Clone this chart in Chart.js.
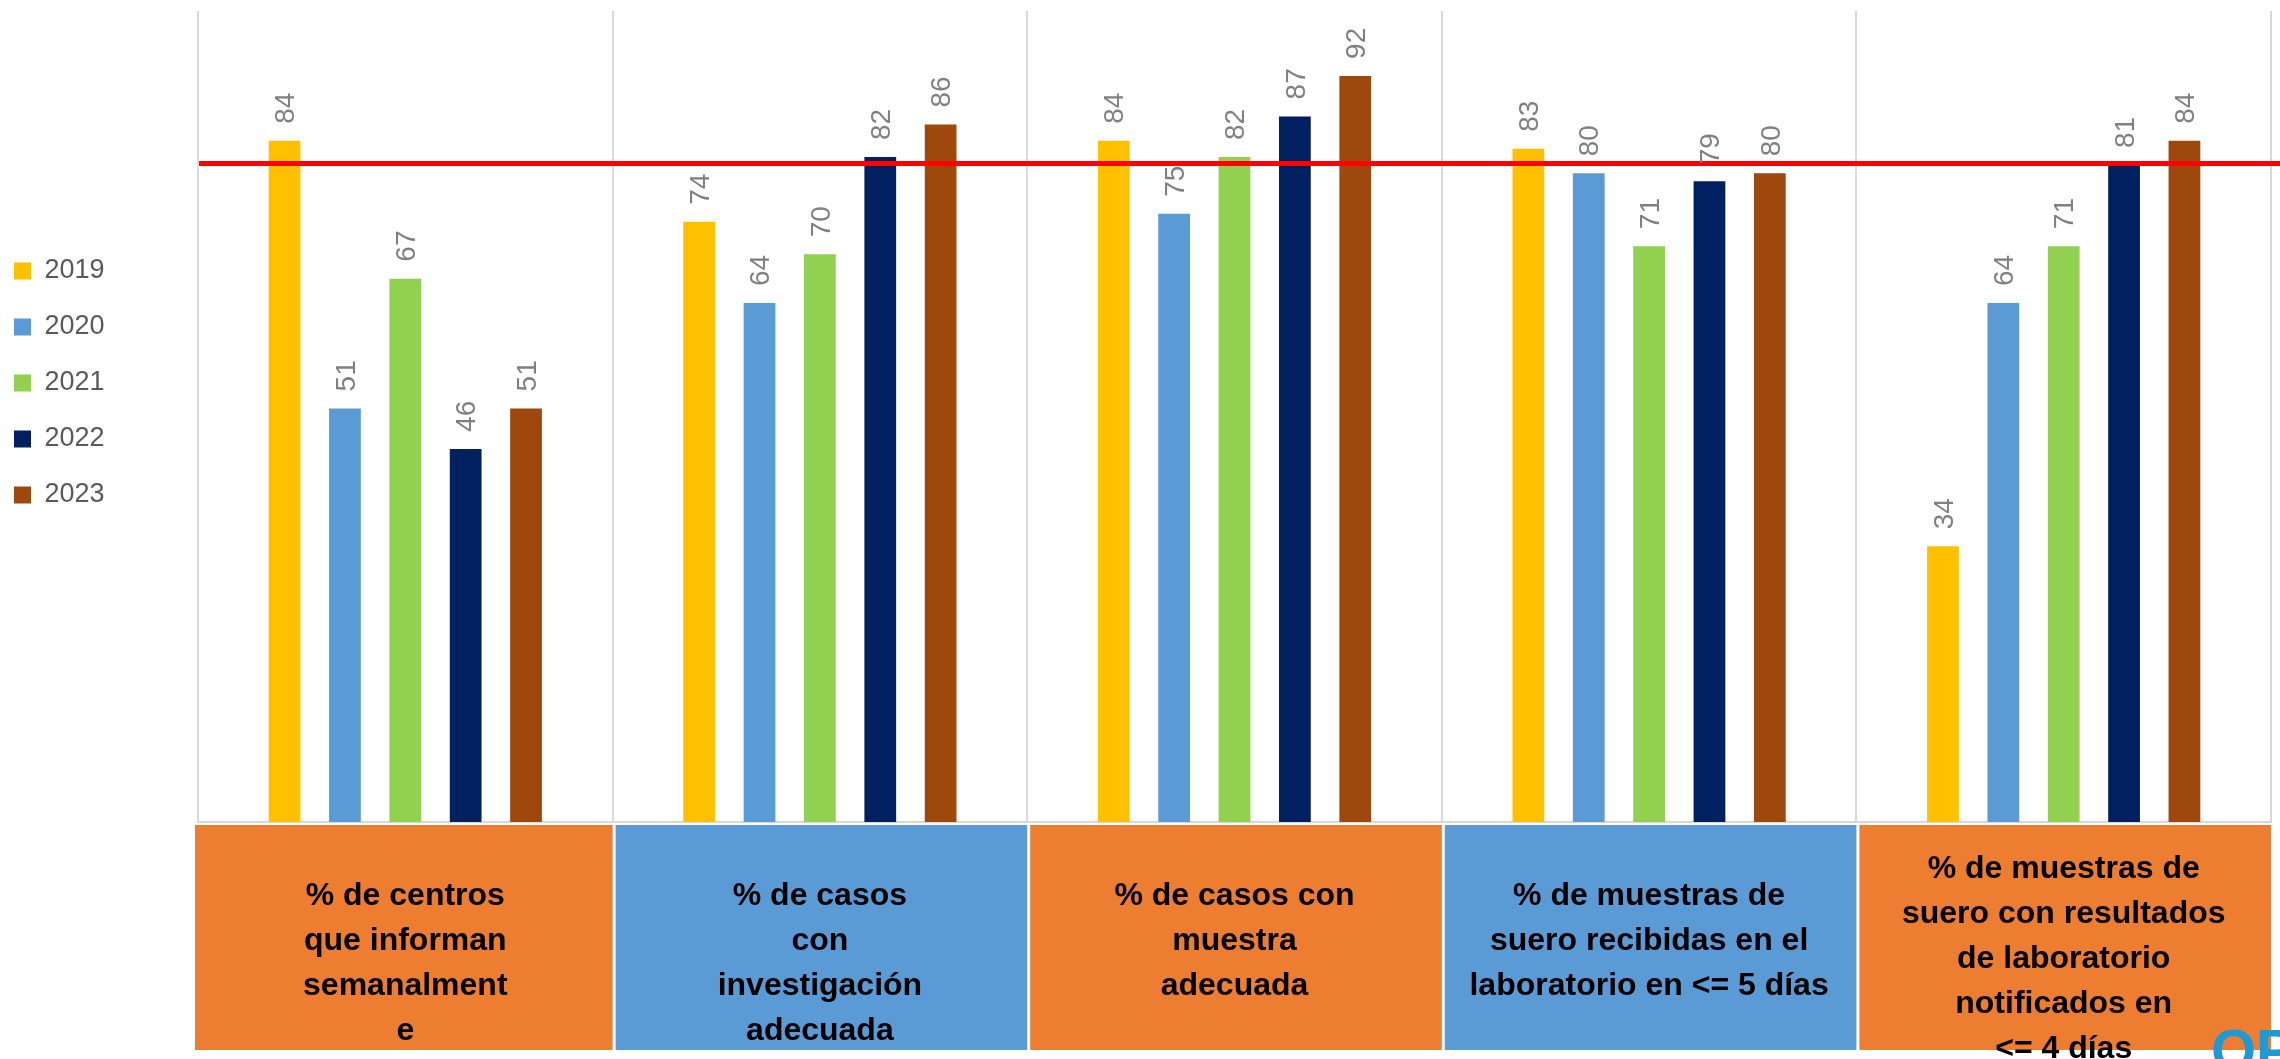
<!DOCTYPE html>
<html>
<head>
<meta charset="utf-8">
<script src="https://cdn.jsdelivr.net/npm/chart.js@4.4.1/dist/chart.umd.min.js"></script>
<style>
  html, body { margin: 0; padding: 0; background: #fff; }
  #wrap { width: 2280px; height: 1059px; position: relative; }
</style>
</head>
<body>
<div id="wrap"><canvas id="chart"></canvas></div>
<script>
// categories, one entry per group, already broken into lines as in the picture
const categories = [
  ["% de centros", "que informan", "semanalment", "e"],
  ["% de casos", "con", "investigación", "adecuada"],
  ["% de casos con", "muestra", "adecuada"],
  ["% de muestras de", "suero recibidas en el", "laboratorio en <= 5 días"],
  ["% de muestras de", "suero con resultados", "de laboratorio", "notificados en", "<= 4 días"],
];
const years = ["2019", "2020", "2021", "2022", "2023"];
const values2019 = [84, 74, 84, 83, 34];
const values2020 = [51, 64, 75, 80, 64];
const values2021 = [67, 70, 82, 71, 71];
const values2022 = [46, 82, 87, 79, 81];
const values2023 = [51, 86, 92, 80, 84];
const targetValue = 81.2;

const YEAR_COLORS = ["#FFC000", "#5B9BD5", "#92D050", "#002060", "#9E480E"];
const BOX_COLORS = ["#ED7D31", "#5B9BD5"];

Chart.defaults.font.family = "'Liberation Sans', Arial, sans-serif";

// red target line across the plot
const targetLine = {
  id: "targetLine",
  afterDatasetsDraw(chart) {
    const { ctx, chartArea } = chart;
    const y = chart.scales.y.getPixelForValue(targetValue);
    ctx.save();
    ctx.strokeStyle = "#FF0000";
    ctx.lineWidth = 5;
    ctx.beginPath();
    ctx.moveTo(chartArea.left + 1, y);
    ctx.lineTo(chart.width, y);
    ctx.stroke();
    ctx.restore();
  },
};

// rotated value labels above every bar
const barValues = {
  id: "barValues",
  afterDatasetsDraw(chart) {
    const { ctx } = chart;
    ctx.save();
    ctx.font = "28px 'Liberation Sans Narrow', 'Liberation Sans', sans-serif";
    ctx.fillStyle = "#808080";
    ctx.textAlign = "left";
    ctx.textBaseline = "middle";
    chart.data.datasets.forEach((ds, i) => {
      chart.getDatasetMeta(i).data.forEach((bar, j) => {
        ctx.save();
        ctx.translate(bar.x + 2, bar.y - 17);
        ctx.rotate(-Math.PI / 2);
        ctx.fillText(String(ds.data[j]), 0, 0);
        ctx.restore();
      });
    });
    ctx.restore();
  },
};

// coloured boxes holding the category names under the axis
const categoryBoxes = {
  id: "categoryBoxes",
  afterDraw(chart) {
    const { ctx, chartArea } = chart;
    const xs = chart.scales.x;
    const half = (xs.right - xs.left) / categories.length / 2;
    const top = chartArea.bottom + 3;
    const bottom = chartArea.bottom + 228;
    ctx.save();
    categories.forEach((lines, i) => {
      const cx = xs.getPixelForValue(i);
      const left = i === 0 ? cx - half - 3 : cx - half + 3;
      ctx.fillStyle = BOX_COLORS[i % 2];
      ctx.fillRect(left, top, cx + half - left, bottom - top);
      ctx.fillStyle = "#000";
      ctx.font = "bold 32px 'Liberation Sans', Arial, sans-serif";
      ctx.textAlign = "center";
      ctx.textBaseline = "alphabetic";
      const first = top + (lines.length > 4 ? 53 : 80);
      lines.forEach((line, k) => ctx.fillText(line, cx, first + k * 45));
    });
    // corner of the logo peeking in at bottom right
    ctx.fillStyle = "#1B9AD6";
    ctx.font = "bold 58px 'Liberation Sans', Arial, sans-serif";
    ctx.textAlign = "left";
    ctx.fillText("OPS", 2211, 1070);
    ctx.restore();
  },
};

const seriesValues = [values2019, values2020, values2021, values2022, values2023];

new Chart(document.getElementById("chart"), {
  type: "bar",
  data: {
    labels: categories.map((c) => c.join(" ")),
    datasets: years.map((year, i) => ({
      label: year,
      data: seriesValues[i],
      backgroundColor: YEAR_COLORS[i],
      borderWidth: 0,
      categoryPercentage: 0.728,
      barPercentage: 0.526,
    })),
  },
  options: {
    responsive: true,
    maintainAspectRatio: false,
    animation: false,
    layout: { padding: { top: 11, right: 9, bottom: 0, left: -15 } },
    plugins: {
      tooltip: { enabled: false },
      legend: {
        position: "left",
        align: "start",
        title: { display: true, text: " ", padding: { top: 203, bottom: 0 } },
        labels: {
          boxWidth: 17,
          boxHeight: 17,
          padding: 29,
          color: "#595959",
          font: { size: 27 },
        },
      },
    },
    scales: {
      x: {
        ticks: { display: false },
        grid: { offset: true, color: "#D9D9D9", lineWidth: 2, drawTicks: false },
        border: { display: true, color: "#D9D9D9", width: 2 },
        afterFit: (scale) => { scale.height = 237; },
      },
      y: {
        min: 0,
        max: 100,
        ticks: { display: false },
        grid: { display: false },
        border: { display: false },
        afterFit: (scale) => { scale.width = 213 - scale.chart.legend.width; },
      },
    },
  },
  plugins: [targetLine, barValues, categoryBoxes],
});
</script>
</body>
</html>
